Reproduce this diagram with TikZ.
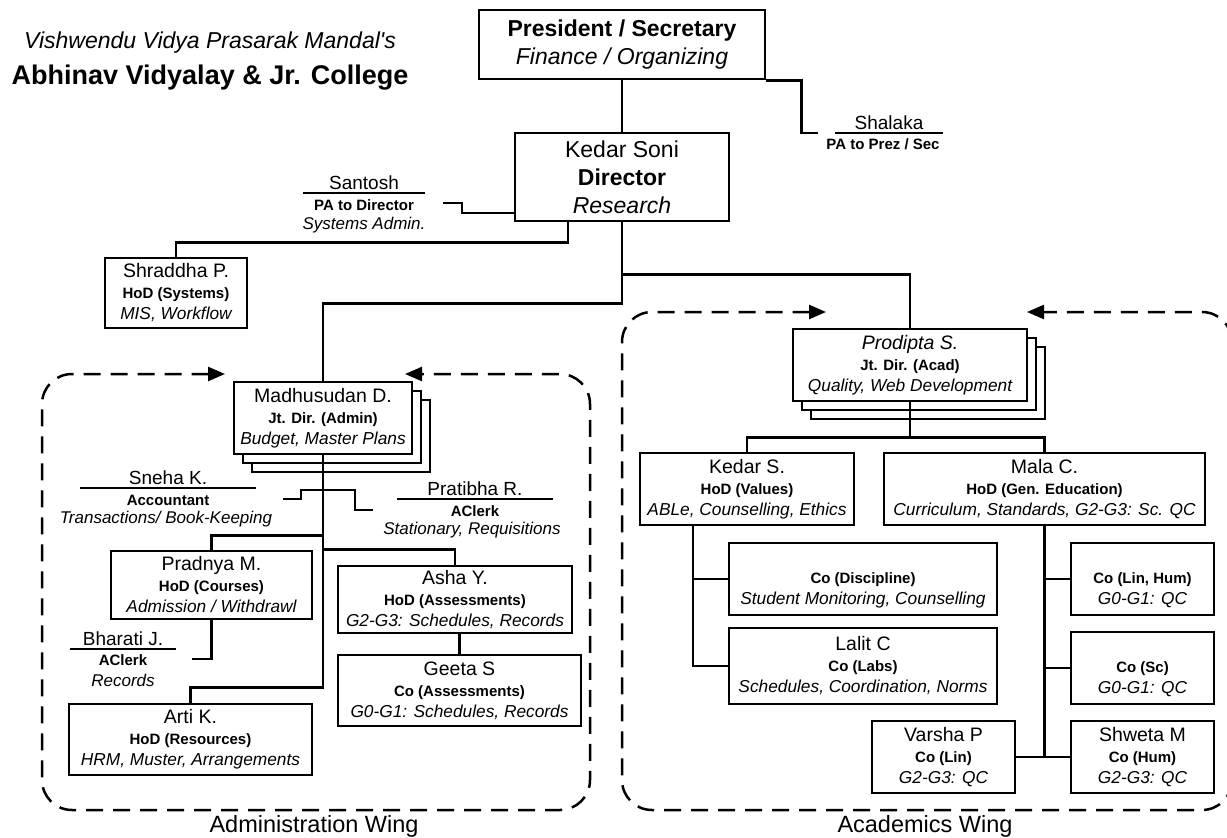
\documentclass[tikz,border=0pt]{standalone}
\usepackage{fontspec}
\setmainfont{Liberation Sans}
\usetikzlibrary{arrows.meta}
\usetikzlibrary{shadows}
\newcommand{\rl}{\fontsize{15}{21}\selectfont\bfseries}
\newcommand{\tk}{\fontsize{17.3}{21}\selectfont\itshape}
\begin{document}
\begin{tikzpicture}[x=1pt, y=-1pt,
box/.style = {draw, line width=2.5pt, fill=white, align=center, inner sep=0pt, font=\fontsize{19.5}{21}\selectfont},
topbox/.style = {box, font=\fontsize{23}{28}\selectfont},
stack/.style = {box, copy shadow={shadow xshift=18pt, shadow yshift=-18pt}, copy shadow={shadow xshift=9pt, shadow yshift=-9pt}},
link/.style = {line width=2.5pt},
wing/.style = {line width=2.5pt, dash pattern=on 17pt off 10pt, rounded corners=30pt, arrows={Triangle[length=17pt,width=14pt]-Triangle[length=17pt,width=14pt]}},
paname/.style = {font=\fontsize{19}{21}\selectfont, inner sep=0pt, text height=14pt, text depth=3pt, anchor=south},
parole/.style = {font=\fontsize{15}{18}\selectfont\bfseries, inner sep=0pt},
patask/.style = {font=\fontsize{17}{20}\selectfont\itshape, inner sep=0pt},
winglabel/.style = {font=\fontsize{23.5}{26}\selectfont}]
\fill[white] (0,0) rectangle (1227,838);
\useasboundingbox (0,0) rectangle (1227,838);

\node[font=\fontsize{23}{28}\selectfont\itshape] (mandal) at (210,43) {Vishwendu Vidya Prasarak Mandal\textquotesingle s};
\node[font=\fontsize{27}{32}\selectfont\bfseries] (college) at (210,78) {Abhinav Vidyalay \& Jr. College};

\node[topbox, minimum width=286pt, minimum height=69pt] (prez) at (622,44.5) {\textbf{President / Secretary}\\ \textit{Finance / Organizing}};
\node[topbox, minimum width=214pt, minimum height=88pt] (dir) at (622,177) {Kedar Soni\\ \textbf{Director}\\ \textit{Research}};

\node[paname, minimum width=107pt] (shalaka) at (889,133) {Shalaka};
\node[parole] (shalakarole) at (883,144) {PA to Prez / Sec};
\coordinate (shalakain) at (818,133);

\node[paname, minimum width=122pt] (santosh) at (364,193) {Santosh};
\node[parole] (santoshrole) at (364,205) {PA to Director};
\node[patask] (santoshtask) at (364,225) {Systems Admin.};
\coordinate (santoshout) at (443,203);

\node[box, minimum width=142pt, minimum height=70pt] (shraddha) at (176,293) {Shraddha P.\\ {\rl HoD (Systems)}\\ {\tk MIS, Workflow}};

\draw[wing] (225,374) -| (42,810) -| (590,374) -- (405,374);
\draw[wing] (826,312) -| (622,810) -| (1232,312) -- (1027,312);

\node[stack, minimum width=178pt, minimum height=72pt] (madhu) at (323,418) {Madhusudan D.\\ {\rl Jt. Dir. (Admin)}\\ {\tk Budget, Master Plans}};

\node[paname, minimum width=176pt] (sneha) at (168,488) {Sneha K.};
\node[parole] (sneharole) at (168,500) {Accountant};
\node[patask] (snehatask) at (166,519) {Transactions/ Book-Keeping};
\coordinate (snehaout) at (283,499);

\node[paname, minimum width=155pt] (pratibha) at (475,499) {Pratibha R.};
\node[parole] (pratibharole) at (475,511) {AClerk};
\node[patask] (pratibhatask) at (472,530) {Stationary, Requisitions};
\coordinate (pratibhain) at (373,510);

\node[box, minimum width=201pt, minimum height=68pt] (pradnya) at (211.5,585) {Pradnya M.\\ {\rl HoD (Courses)}\\ {\tk Admission / Withdrawl}};

\node[paname, minimum width=106pt] (bharati) at (123,649) {Bharati J.};
\node[parole] (bharatirole) at (123,660) {AClerk};
\node[patask] (bharatitask) at (123,680) {Records};
\coordinate (bharatiin) at (192,659);

\node[box, minimum width=234pt, minimum height=67pt] (asha) at (455,599.5) {Asha Y.\\ {\rl HoD (Assessments)}\\ {\tk G2-G3: Schedules, Records}};
\node[box, minimum width=243pt, minimum height=71pt] (geeta) at (459.5,690.5) {Geeta S\\ {\rl Co (Assessments)}\\ {\tk G0-G1: Schedules, Records}};
\node[box, minimum width=243pt, minimum height=71pt] (arti) at (190.5,739.5) {Arti K.\\ {\rl HoD (Resources)}\\ {\tk HRM, Muster, Arrangements}};

\node[winglabel] (adminwing) at (314,826) {Administration Wing};

\node[stack, minimum width=234pt, minimum height=72pt] (prodipta) at (910,365) {{\itshape Prodipta S.}\\ {\rl Jt. Dir. (Acad)}\\ {\tk Quality, Web Development}};
\node[box, minimum width=214pt, minimum height=72pt] (kedars) at (747,489) {Kedar S.\\ {\rl HoD (Values)}\\ {\tk ABLe, Counselling, Ethics}};
\node[box, minimum width=321pt, minimum height=72pt] (mala) at (1044.5,489) {Mala C.\\ {\rl HoD (Gen. Education)}\\ {\tk Curriculum, Standards, G2-G3: Sc. QC}};
\node[box, minimum width=268pt, minimum height=72pt] (discipline) at (863,579) {\rule{0pt}{13pt}\\ {\rl Co (Discipline)}\\ {\tk Student Monitoring, Counselling}};
\node[box, minimum width=268pt, minimum height=76pt] (lalit) at (863,666) {Lalit C\\ {\rl Co (Labs)}\\ {\tk Schedules, Coordination, Norms}};
\node[box, minimum width=143pt, minimum height=72pt] (linhum) at (1142.5,579) {\rule{0pt}{13pt}\\ {\rl Co (Lin, Hum)}\\ {\tk G0-G1: QC}};
\node[box, minimum width=143pt, minimum height=72pt] (sc) at (1142.5,668) {\rule{0pt}{13pt}\\ {\rl Co (Sc)}\\ {\tk G0-G1: QC}};
\node[box, minimum width=143pt, minimum height=72pt] (varsha) at (943.5,757) {Varsha P\\ {\rl Co (Lin)}\\ {\tk G2-G3: QC}};
\node[box, minimum width=143pt, minimum height=72pt] (shweta) at (1142.5,757) {Shweta M\\ {\rl Co (Hum)}\\ {\tk G2-G3: QC}};

\node[winglabel] (acadwing) at (925,826) {Academics Wing};

\draw[link] (prez.south) -- (dir.north);
\draw[link] (prez.south east) -- ++(35,0) |- (shalakain);
\draw[link] (shalaka.south west) -- (shalaka.south east);
\draw[link] (santosh.south west) -- (santosh.south east);
\draw[link] (santoshout) -- ++(19,0) -- ++(0,10) -- ([yshift=-36pt]dir.west);
\draw[link] ([xshift=-54pt]dir.south) -- ++(0,20) -| (shraddha.north);
\draw[link] (dir.south) -- ++(0,81) -| (madhu.north);
\draw[link] (dir.south) -- ++(0,52) -| (prodipta.north);

\draw[link] (sneha.south west) -- (sneha.south east);
\draw[link] (pratibha.south west) -- (pratibha.south east);
\draw[link] (bharati.south west) -- (bharati.south east);
\draw[link] (madhu.south) -- ++(0,232) -| (arti.north);
\draw[link] (snehaout) -- ++(18,0) -- ++(0,-9) -- ++(54,0) -- ++(0,20) -- (pratibhain);
\draw[link] (madhu.south) ++(0,80) -| (pradnya.north);
\draw[link] (madhu.south) ++(0,94) -| (asha.north);
\draw[link] (pradnya.south) |- (bharatiin);
\draw[link] (geeta.north |- asha.south) -- (geeta.north);

\draw[link] (prodipta.south) -- ++(0,35) -| (kedars.north);
\draw[link] (prodipta.south) -- ++(0,35) -| (mala.north);
\draw[link] ([xshift=-54pt]kedars.south) |- (discipline.west);
\draw[link] ([xshift=-54pt]kedars.south) |- (lalit.west);
\draw[link] (mala.south) |- (linhum.west);
\draw[link] (mala.south) |- (sc.west);
\draw[link] (mala.south) |- (shweta.west);
\draw[link] (varsha.east) -- (shweta.west);
\end{tikzpicture}
\end{document}
